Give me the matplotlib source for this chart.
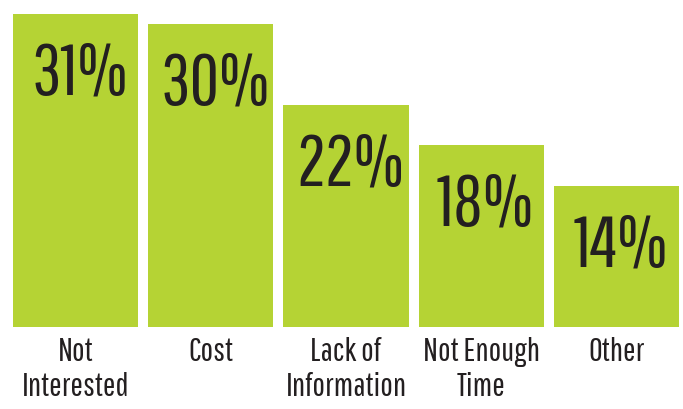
import numpy as np
import matplotlib
matplotlib.use('Agg')
import matplotlib.pyplot as plt

# reasons (two-line labels as printed under the bars)
categories = ['Not\nInterested', 'Cost', 'Lack of\nInformation', 'Not Enough\nTime', 'Other']
values = [31, 30, 22, 18, 14]
value_labels = ['31%', '30%', '22%', '18%', '14%']

bar_color = '#b5d334'
text_color = '#231f20'
plt.rcParams['font.family'] = ['Pathway Gothic One', 'DejaVu Sans']

fig = plt.figure(figsize=(6.83, 4.09), dpi=100)
W, H = 683, 409
bw = 0.925
ax = fig.add_axes([13 / W, 82 / H, 666 / W, 323 / H])

x = np.arange(len(values))
ax.bar(x, values, width=bw, color=bar_color, linewidth=0)
ax.set_xlim(-bw / 2, len(values) - 1 + bw / 2)
ax.set_ylim(0, 32)

# big percentages inside the bars
for xi, v, lab in zip(x, values, value_labels):
    ax.annotate(lab, xy=(xi, v), xytext=(4, -27), textcoords='offset pixels',
                ha='center', va='top', fontsize=52, color=text_color)

ax.set_xticks(x)
ax.set_xticklabels(categories, fontsize=24, color=text_color, linespacing=1.22)
ax.tick_params(axis='x', length=0, pad=7)
ax.set_yticks([])
for s in ax.spines.values():
    s.set_visible(False)

plt.savefig('out.png', dpi=100)
